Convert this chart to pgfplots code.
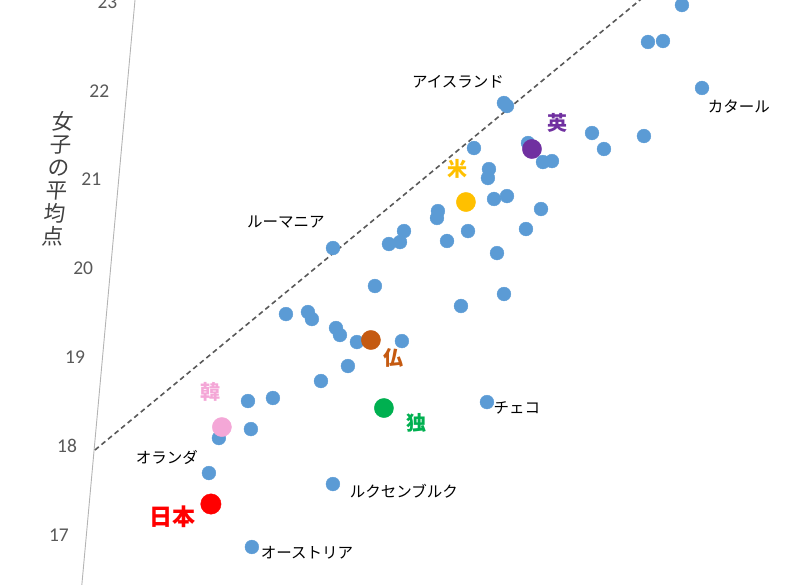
\documentclass[border=0pt]{standalone}
\usepackage{pgfplots}
\pgfplotsset{compat=1.18}
\usepackage{fontspec}
\setmainfont{Carlito}
\newfontfamily\cjk{Noto Sans CJK JP}
\usetikzlibrary{calc}

\definecolor{mblue}{HTML}{5B9BD5}
\definecolor{ukpurple}{HTML}{7030A0}
\definecolor{usyellow}{HTML}{FFC000}
\definecolor{frorange}{HTML}{C55A11}
\definecolor{degreen}{HTML}{00B050}
\definecolor{krpink}{HTML}{F4A7D7}
\definecolor{jpred}{HTML}{FF0000}
\definecolor{tickgray}{HTML}{595959}
\definecolor{titlegray}{HTML}{404040}
\definecolor{axisgray}{HTML}{B4B4B4}

\begin{document}
\begin{tikzpicture}
\begin{axis}[
    x={(100pt,0pt)}, y={(8.07pt,88.8pt)},
    xmin=18, xmax=24.75,
    ymin=16.435, ymax=23.023,
    axis x line=none,
    axis y line=left,
    y axis line style={-, draw=axisgray, line width=0.9pt},
    ytick={17,18,19,20,21,22,23},
    ytick style={draw=none},
    major tick length=0pt,
    /pgf/number format/assume math mode=true,
    yticklabel style={font=\fontsize{19.5}{19.5}\selectfont, text=tickgray, xshift=-14pt},
    clip mode=individual,
    clip marker paths=true,
]
% y = x reference line
\addplot[draw=tickgray, line width=1.6pt, dash pattern=on 5pt off 3.5pt, mark=none]
    coordinates {(18.008,17.955) (23.127,23.10)};

% other countries
\addplot[only marks, mark=*, mark size=6.9pt, mblue, mark options={draw=mblue, fill=mblue}]
    coordinates {
    (23.779,23.034) (23.474,22.966) (23.168,22.550) (23.317,22.561)
    (23.750,22.032) (21.783,21.863) (21.816,21.829) (21.524,21.356)
    (22.060,21.412) (22.227,21.198) (22.316,21.209) (22.691,21.525)
    (22.825,21.345) (23.213,21.491) (21.693,21.119) (21.691,21.018)
    (21.771,20.782) (21.898,20.815) (21.221,20.646) (21.218,20.568)
    (22.250,20.669) (20.900,20.421) (20.870,20.297) (20.761,20.275)
    (21.339,20.309) (21.540,20.421) (22.118,20.444) (21.850,20.173)
    (20.205,20.230) (20.659,19.802) (21.957,19.712) (21.538,19.577)
    (19.795,19.486) (20.013,19.509) (20.059,19.430) (20.308,19.329)
    (20.354,19.250) (20.530,19.171) (20.979,19.182) (20.462,18.901)
    (20.206,18.732) (19.494,18.507) (19.741,18.541) (19.237,18.090)
    (19.549,18.191) (19.169,17.696) (19.666,16.863) (20.419,17.572)
    (21.885,18.495)
    };

% highlighted countries
\addplot[only marks, mark=*, mark size=9.6pt, mark options={draw=usyellow, fill=usyellow}]
    coordinates {(21.493,20.748)};
\addplot[only marks, mark=*, mark size=9.6pt, mark options={draw=ukpurple, fill=ukpurple}]
    coordinates {(22.105,21.345)};
\addplot[only marks, mark=*, mark size=9.6pt, mark options={draw=frorange, fill=frorange}]
    coordinates {(20.668,19.194)};
\addplot[only marks, mark=*, mark size=9.6pt, mark options={draw=degreen, fill=degreen}]
    coordinates {(20.860,18.428)};
\addplot[only marks, mark=*, mark size=9.6pt, mark options={draw=krpink, fill=krpink}]
    coordinates {(19.257,18.214)};
\addplot[only marks, mark=*, mark size=10.2pt, mark options={draw=jpred, fill=jpred}]
    coordinates {(19.217,17.347)};

% country names
\begin{scope}[every node/.style={font=\cjk\fontsize{15.5}{15.5}\selectfont, text=black, inner sep=0pt}]
\node at (axis cs:21.304,22.099) {アイスランド};
\node at (axis cs:24.137,21.818) {カタール};
\node at (axis cs:19.711,20.523) {ルーマニア};
\node at (axis cs:18.735,17.876) {オランダ};
\node at (axis cs:20.222,16.795) {オーストリア};
\node at (axis cs:21.135,17.493) {ルクセンブルク};
\node at (axis cs:22.190,18.428) {チェコ};
\end{scope}
\begin{scope}[every node/.style={font=\cjk\bfseries\fontsize{20}{20}\selectfont, inner sep=0pt}]
\node[text=ukpurple] at (axis cs:22.332,21.637) {英};
\node[text=usyellow] at (axis cs:21.383,21.119) {米};
\node[text=frorange] at (axis cs:20.915,18.991) {仏};
\node[text=degreen] at (axis cs:21.204,18.259) {独};
\node[text=krpink] at (axis cs:19.116,18.608) {韓};
\node[text=jpred, font=\cjk\bfseries\fontsize{23}{23}\selectfont] at (axis cs:18.849,17.200) {日本};
\end{scope}

% y axis title, stacked characters
\node[font=\cjk\fontsize{21.5}{23}\selectfont, text=titlegray, align=center, xslant=0.09, inner sep=0pt]
    at (axis cs:17.392,21.007) {女\\子\\の\\平\\均\\点};

\coordinate (tl) at (rel axis cs:0,1);
\end{axis}
\pgfresetboundingbox
\path[use as bounding box] ($(tl)+(-135pt,0pt)$) rectangle ($(tl)+(675pt,-585pt)$);
\end{tikzpicture}
\end{document}
